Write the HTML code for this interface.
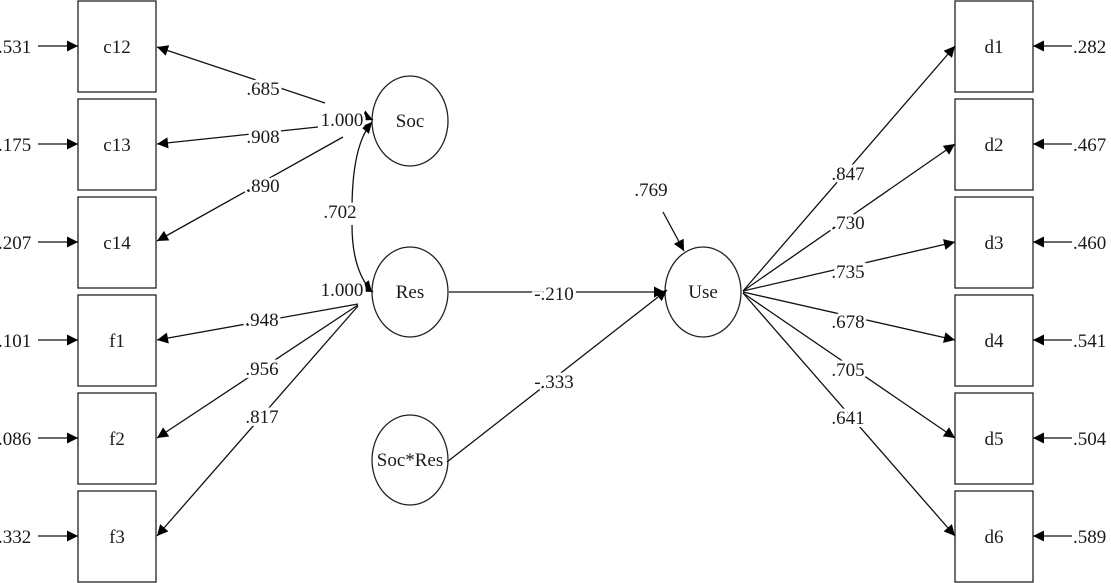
<!DOCTYPE html>
<html><head><meta charset="utf-8"><style>
html,body{margin:0;padding:0;background:#fff;}
svg{display:block;}
text{font-family:"Liberation Serif",serif;font-size:19px;fill:#1a1a1a;}
.l{paint-order:stroke;stroke:#fff;stroke-width:6px;}
</style></head><body>
<svg width="1111" height="583" viewBox="0 0 1111 583">
<defs><marker id="a" viewBox="0 0 10 10" refX="10" refY="5" markerWidth="12" markerHeight="11" orient="auto" markerUnits="userSpaceOnUse"><path d="M0,0L10,5L0,10z" fill="#000"/></marker></defs>
<g fill="none" stroke="#222" stroke-width="1.3">
<rect x="78" y="1" width="78" height="91"/><rect x="78" y="99" width="78" height="91"/><rect x="78" y="197" width="78" height="91"/>
<rect x="78" y="295" width="78" height="91"/><rect x="78" y="393" width="78" height="91"/><rect x="78" y="491" width="78" height="91"/>
<rect x="955" y="1" width="78" height="91"/><rect x="955" y="99" width="78" height="91"/><rect x="955" y="197" width="78" height="91"/>
<rect x="955" y="295" width="78" height="91"/><rect x="955" y="393" width="78" height="91"/><rect x="955" y="491" width="78" height="91"/>
<ellipse cx="410" cy="121" rx="38" ry="45"/><ellipse cx="410" cy="292" rx="38" ry="45"/><ellipse cx="410" cy="460" rx="38" ry="45"/><ellipse cx="703" cy="292" rx="38" ry="45"/>
</g>
<g stroke="#111" stroke-width="1.3" fill="none" marker-end="url(#a)">
<line x1="38" y1="46" x2="78" y2="46"/><line x1="38" y1="144" x2="78" y2="144"/><line x1="38" y1="242" x2="78" y2="242"/>
<line x1="38" y1="340" x2="78" y2="340"/><line x1="38" y1="438" x2="78" y2="438"/><line x1="38" y1="536" x2="78" y2="536"/>
<line x1="1072" y1="46" x2="1033" y2="46"/><line x1="1072" y1="144" x2="1033" y2="144"/><line x1="1072" y1="242" x2="1033" y2="242"/>
<line x1="1072" y1="340" x2="1033" y2="340"/><line x1="1072" y1="438" x2="1033" y2="438"/><line x1="1072" y1="536" x2="1033" y2="536"/>
<line x1="325" y1="103" x2="157" y2="47"/><line x1="318" y1="127" x2="157" y2="144"/><line x1="343" y1="137" x2="157" y2="241"/>
<line x1="364" y1="116" x2="373" y2="120"/>
<line x1="358" y1="304" x2="157" y2="340"/><line x1="358" y1="305" x2="157" y2="438"/><line x1="358" y1="306" x2="157" y2="536"/>
<line x1="364" y1="287" x2="373" y2="292"/>
<path d="M352,210 Q352,145 372,122"/><path d="M352,225 Q352,270 372,292"/>
<line x1="449" y1="292" x2="665" y2="292"/><line x1="447" y1="462" x2="667" y2="290"/>
<line x1="663" y1="212" x2="684" y2="251"/>
<line x1="743" y1="291" x2="955" y2="46"/><line x1="743" y1="291" x2="955" y2="144"/><line x1="743" y1="291" x2="955" y2="242"/>
<line x1="743" y1="292" x2="955" y2="340"/><line x1="743" y1="293" x2="955" y2="438"/><line x1="743" y1="293" x2="955" y2="536"/>
</g>
<g text-anchor="middle">
<text x="117" y="53">c12</text><text x="117" y="151">c13</text><text x="117" y="249">c14</text>
<text x="117" y="347">f1</text><text x="117" y="445">f2</text><text x="117" y="543">f3</text>
<text x="994" y="53">d1</text><text x="994" y="151">d2</text><text x="994" y="249">d3</text>
<text x="994" y="347">d4</text><text x="994" y="445">d5</text><text x="994" y="543">d6</text>
<text x="410" y="127" font-size="16">Soc</text><text x="410" y="298" font-size="16">Res</text><text x="410" y="466" font-size="16">Soc*Res</text><text x="703" y="298" font-size="16">Use</text>
</g>
<g>
<text x="-2" y="53">.531</text><text x="-2" y="151">.175</text><text x="-2" y="249">.207</text><text x="-2" y="347">.101</text><text x="-2" y="445">.086</text><text x="-2" y="543">.332</text>
<text x="1073" y="53">.282</text><text x="1073" y="151">.467</text><text x="1073" y="249">.460</text><text x="1073" y="347">.541</text><text x="1073" y="445">.504</text><text x="1073" y="543">.589</text>
</g>
<g text-anchor="middle">
<text class="l" x="263" y="95">.685</text><text class="l" x="263" y="143">.908</text><text class="l" x="263" y="192">.890</text>
<text class="l" x="342" y="126">1.000</text><text class="l" x="342" y="296">1.000</text><text class="l" x="340" y="218">.702</text>
<text class="l" x="262" y="326">.948</text><text class="l" x="262" y="375">.956</text><text class="l" x="262" y="423">.817</text>
<text class="l" x="554" y="300">-.210</text><text class="l" x="554" y="388">-.333</text><text x="651" y="196">.769</text>
<text class="l" x="848" y="180">.847</text><text class="l" x="848" y="229">.730</text><text class="l" x="848" y="278">.735</text>
<text class="l" x="848" y="328">.678</text><text class="l" x="848" y="376">.705</text><text class="l" x="848" y="424">.641</text>
</g>
</svg>
</body></html>
